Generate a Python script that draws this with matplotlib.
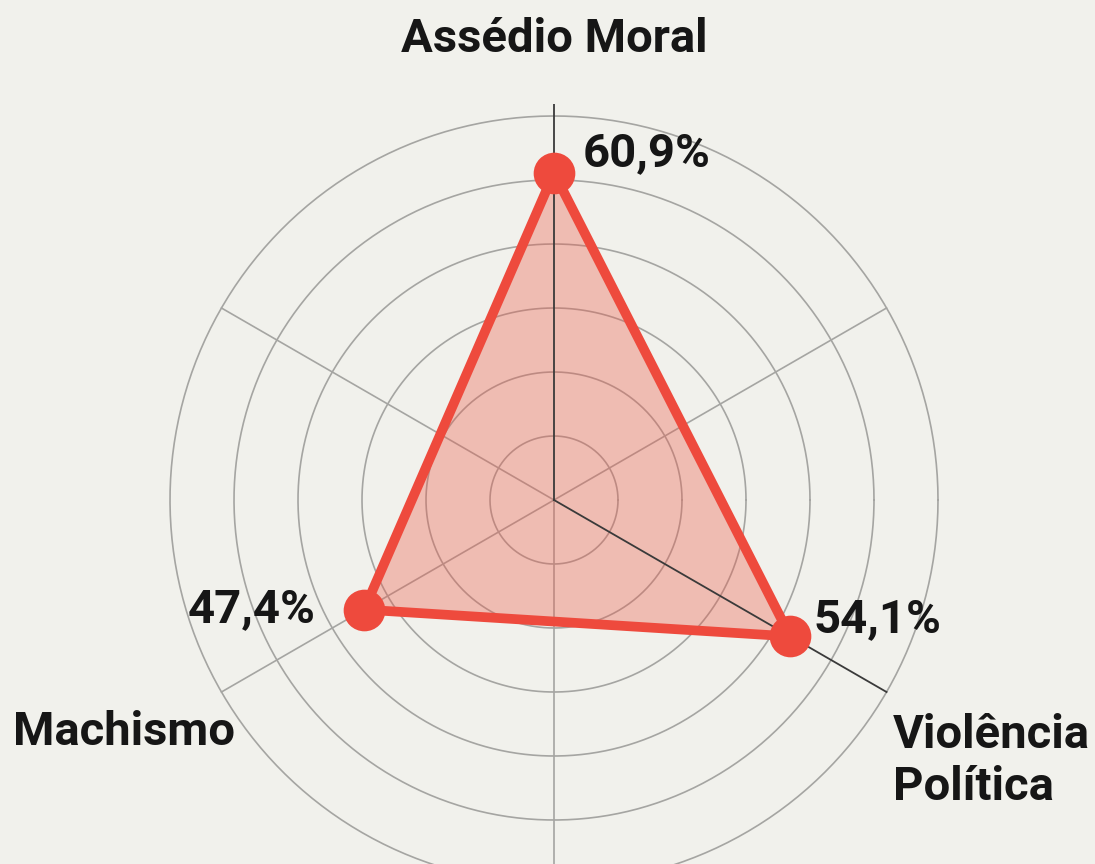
import numpy as np
import matplotlib
matplotlib.use("Agg")
import matplotlib.pyplot as plt

# Data
categories = ["Assédio Moral", "Violência Política", "Machismo"]
values = [60.9, 54.1, 47.4]
value_labels = ["60,9%", "54,1%", "47,4%"]
category_angles_deg = [90, -30, 210]
spoke_angles_deg = [90, 30, -30, -90, -150, 150]
ring_values = [28, 36, 44, 52, 60, 68]

BG = "#F1F1EC"
RED = "#EE4A3D"
FILL = "#EC5A48"

plt.rcParams['font.family'] = ['Roboto', 'DejaVu Sans']

fig = plt.figure(figsize=(10.95, 8.64), dpi=100, facecolor=BG)
ax = fig.add_axes([158/1095, -32/864, 792/1095, 792/864], projection='polar')
ax.set_facecolor(BG)
ax.patch.set_alpha(0)
ax.set_ylim(20, 69.5)
ax.spines['polar'].set_visible(False)
ax.set_xticks([])
ax.set_yticks([])
ax.grid(False)

# rings
th_full = np.linspace(0, 2*np.pi, 400)
for rv in ring_values:
    ax.plot(th_full, np.full_like(th_full, rv), color="#A5A5A2", lw=1.2, zorder=1)

# spokes
for a in spoke_angles_deg:
    t = np.deg2rad(a)
    dark = a in category_angles_deg
    end = 69.5 if a in (90, -90) else 68
    ax.plot([t, t], [20, end], color="#3A3A3A" if dark else "#A5A5A2",
            lw=1.3 if dark else 1.2, zorder=4 if dark else 1)

# polygon
th = np.deg2rad(category_angles_deg)
th_c = np.append(th, th[0])
v_c = np.append(values, values[0])
ax.fill(th_c, v_c, color=FILL, alpha=0.35, zorder=2, lw=0)
ax.plot(th_c, v_c, color=RED, lw=7, solid_joinstyle='round', zorder=5)
ax.plot(th, values, 'o', color=RED, markersize=30, markeredgewidth=0, zorder=6)

# labels (figure pixel coords, from top)
def ftext(x, y, s, ha='left', **kw):
    fig.text(x/1095, 1 - y/864, s, ha=ha, va='baseline', fontsize=34,
             fontweight='bold', color='#161616', **kw)

ftext(583, 166, value_labels[0])
ftext(814, 632, value_labels[1])
ftext(188, 622, value_labels[2])

ftext(554, 52, categories[0], ha='center')
ftext(893, 748, "Violência")
ftext(893, 800, "Política")
ftext(13, 745, categories[2])

fig.savefig("out.png", dpi=100, facecolor=BG)
